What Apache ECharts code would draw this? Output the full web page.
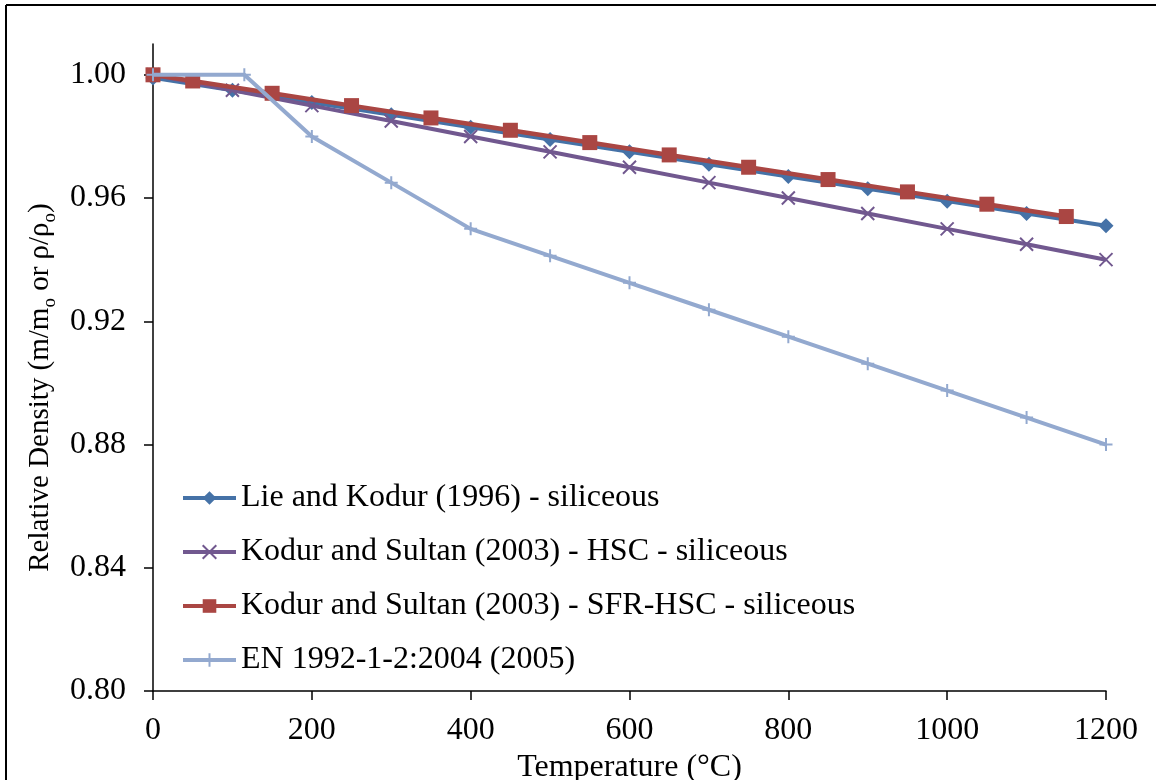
<!DOCTYPE html>
<html>
<head>
<meta charset="utf-8">
<script src="https://cdn.jsdelivr.net/npm/echarts@6/dist/echarts.min.js"></script>
<style>
  html, body { margin: 0; padding: 0; background: #fff; }
  #chart { width: 1156px; height: 780px; }
</style>
</head>
<body>
<div id="chart"></div>
<script>
// Relative density of concrete versus temperature
const seriesNames = [
  'Lie and Kodur (1996) - siliceous',
  'Kodur and Sultan (2003) - HSC - siliceous',
  'Kodur and Sultan (2003) - SFR-HSC - siliceous',
  'EN 1992-1-2:2004 (2005)'
];

const tempLie = [0, 100, 200, 300, 400, 500, 600, 700, 800, 900, 1000, 1100, 1200];
const densLie = [0.999, 0.995, 0.991, 0.987, 0.983, 0.979, 0.975, 0.971, 0.967, 0.963, 0.959, 0.955, 0.951];

const tempHSC = [0, 100, 200, 300, 400, 500, 600, 700, 800, 900, 1000, 1100, 1200];
const densHSC = [1.000, 0.995, 0.990, 0.985, 0.980, 0.975, 0.970, 0.965, 0.960, 0.955, 0.950, 0.945, 0.940];

const tempSFR = [0, 50, 150, 250, 350, 450, 550, 650, 750, 850, 950, 1050, 1150];
const densSFR = [1.000, 0.998, 0.994, 0.990, 0.986, 0.982, 0.978, 0.974, 0.970, 0.966, 0.962, 0.958, 0.954];

const tempEN = [0, 115, 200, 300, 400, 500, 600, 700, 800, 900, 1000, 1100, 1200];
const densEN = [1.000, 1.000, 0.980, 0.965, 0.950, 0.94125, 0.9325, 0.92375, 0.915, 0.90625, 0.8975, 0.88875, 0.880];

const yTicks = [0.80, 0.84, 0.88, 0.92, 0.96, 1.00];

const pairs = (xs, ys) => xs.map((x, i) => [x, ys[i]]);

const FONT = 'Liberation Serif';
const crossPath = 'path://M0,0L10,10M10,0L0,10';
const plusPath = 'path://M5,0L5,10M0,5L10,5';

const chart = echarts.init(document.getElementById('chart'), null, { renderer: 'canvas' });

chart.setOption({
  backgroundColor: '#ffffff',
  animation: false,
  grid: { left: 153, right: 50, top: 44, bottom: 89, containLabel: false, outerBoundsMode: 'none' },
  xAxis: {
    type: 'value',
    min: 0, max: 1200, interval: 200,
    name: 'Temperature (°C)',
    nameLocation: 'middle',
    nameGap: 51,
    nameTextStyle: { fontFamily: FONT, fontSize: 32, color: '#000' },
    axisLine: { lineStyle: { color: '#000', width: 1.5 } },
    axisTick: { show: true, inside: false, length: 9, lineStyle: { color: '#000', width: 1.5 } },
    axisLabel: { fontFamily: FONT, fontSize: 32, color: '#000', margin: 24, formatter: v => String(v) },
    splitLine: { show: false }
  },
  yAxis: {
    type: 'value',
    min: 0.80, max: 1.01, interval: 0.04,
    name: '{t|Relative Density (m/m}{s|o}{t| or ρ/ρ}{s|o}{t|)}',
    nameLocation: 'middle',
    nameGap: 74,
    nameTextStyle: {
      color: '#000',
      padding: [0, 40, 0, 0],
      rich: {
        t: { fontFamily: FONT, fontSize: 29, lineHeight: 38, color: '#000' },
        s: { fontFamily: FONT, fontSize: 19, lineHeight: 19, verticalAlign: 'bottom', color: '#000' }
      }
    },
    axisLine: { lineStyle: { color: '#000', width: 1.5 } },
    axisTick: { show: true, inside: false, length: 9, customValues: yTicks, lineStyle: { color: '#000', width: 1.5 } },
    axisLabel: {
      fontFamily: FONT, fontSize: 32, color: '#000', margin: 27,
      customValues: yTicks,
      formatter: v => v.toFixed(2)
    },
    splitLine: { show: false }
  },
  legend: {
    orient: 'vertical',
    left: 181,
    top: 480,
    padding: 0,
    itemWidth: 53,
    itemHeight: 17,
    itemGap: 18,
    lineStyle: { width: 4 },
    textStyle: { fontFamily: FONT, fontSize: 32, lineHeight: 36, color: '#000' },
    data: seriesNames
  },
  series: [
    {
      name: seriesNames[0], type: 'line',
      data: pairs(tempLie, densLie),
      symbol: 'diamond', symbolSize: 15,
      lineStyle: { color: '#4572A7', width: 4 },
      itemStyle: { color: '#4572A7' },
      z: 2
    },
    {
      name: seriesNames[1], type: 'line',
      data: pairs(tempHSC, densHSC),
      symbol: crossPath, symbolSize: 13,
      lineStyle: { color: '#71588F', width: 4 },
      itemStyle: { color: '#71588F', borderColor: '#71588F', borderWidth: 2 },
      z: 3
    },
    {
      name: seriesNames[2], type: 'line',
      data: pairs(tempSFR, densSFR),
      symbol: 'rect', symbolSize: 15,
      lineStyle: { color: '#AA4643', width: 4.5 },
      itemStyle: { color: '#AA4643' },
      z: 4
    },
    {
      name: seriesNames[3], type: 'line',
      data: pairs(tempEN, densEN),
      symbol: plusPath, symbolSize: 13,
      lineStyle: { color: '#93A9CF', width: 4 },
      itemStyle: { color: '#93A9CF', borderColor: '#93A9CF', borderWidth: 2 },
      z: 5
    }
  ],
  graphic: [
    { type: 'line', shape: { x1: 6, y1: 5, x2: 1156, y2: 5 }, style: { stroke: '#000', lineWidth: 2 } },
    { type: 'line', shape: { x1: 6, y1: 5, x2: 6, y2: 780 }, style: { stroke: '#000', lineWidth: 2 } }
  ]
});
</script>
</body>
</html>
